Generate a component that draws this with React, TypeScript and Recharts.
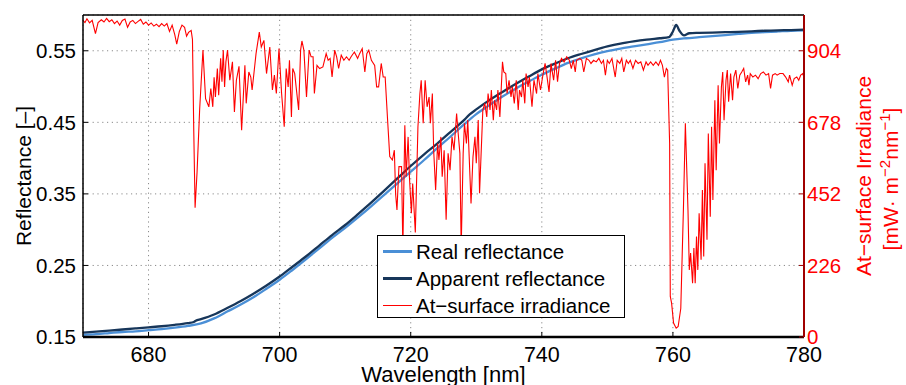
import React from 'react';
import { LineChart, Line, XAxis, YAxis, CartesianGrid, Legend } from 'recharts';

// wavelength ticks [nm]
const xTicks = [680, 700, 720, 740, 760, 780];
const reflTicks = [0.15, 0.25, 0.35, 0.45, 0.55];
const irrTicks = [0, 226, 452, 678, 904];

// [wavelength nm, reflectance]
const realReflectance: [number, number][] = [
  [670, 0.153], [672, 0.154], [674, 0.1555], [676, 0.157], [678, 0.158], [680, 0.1595],
  [682, 0.161], [684, 0.163], [686, 0.1655], [688, 0.169], [690, 0.176], [692, 0.1855],
  [694, 0.195], [696, 0.2055], [698, 0.2175], [700, 0.23], [702, 0.244], [704, 0.2585],
  [706, 0.2735], [708, 0.2885], [710, 0.3025], [712, 0.3175], [714, 0.333], [716, 0.349],
  [718, 0.365], [720, 0.381], [722, 0.397], [724, 0.4135], [726, 0.4295], [728, 0.446],
  [730, 0.4615], [732, 0.474], [734, 0.486], [736, 0.497], [738, 0.507], [740, 0.5165],
  [742, 0.525], [744, 0.533], [746, 0.5395], [748, 0.545], [750, 0.5495], [752, 0.553],
  [754, 0.556], [756, 0.559], [758, 0.562], [760, 0.5655], [762, 0.5675], [764, 0.569],
  [766, 0.5705], [768, 0.572], [770, 0.5735], [772, 0.575], [774, 0.576], [776, 0.577],
  [778, 0.578], [780, 0.5785],
];

const apparentReflectance: [number, number][] = [
  [670, 0.156], [672, 0.1575], [674, 0.159], [676, 0.1605], [678, 0.162], [680, 0.1635],
  [682, 0.165], [684, 0.167], [686, 0.1695], [686.9, 0.171], [687.2, 0.1728], [688, 0.175],
  [690, 0.1815], [692, 0.1905], [694, 0.2], [696, 0.2105], [698, 0.222], [700, 0.2345],
  [702, 0.2485], [704, 0.2625], [706, 0.2775], [708, 0.2925], [710, 0.3065], [712, 0.322],
  [714, 0.338], [716, 0.355], [718, 0.372], [720, 0.389], [722, 0.405], [724, 0.42],
  [726, 0.436], [728, 0.452], [729, 0.461], [730, 0.468], [732, 0.481], [734, 0.4925],
  [736, 0.5035], [738, 0.514], [740, 0.524], [742, 0.532], [744, 0.5395], [746, 0.5455],
  [748, 0.551], [750, 0.556], [752, 0.56], [754, 0.563], [756, 0.5655], [758, 0.5675],
  [759.4, 0.569], [760.0, 0.577], [760.5, 0.586], [761.0, 0.578], [761.7, 0.5715],
  [762.5, 0.5745], [764, 0.575], [766, 0.5755], [768, 0.576], [770, 0.5765], [772, 0.5772],
  [774, 0.578], [776, 0.5785], [778, 0.579], [780, 0.5795],
];

// [wavelength nm, at-surface irradiance mW m-2 nm-1]
const irradiance: [number, number][] = [
  [670.0, 1000], [670.3, 993], [670.6, 1005], [671.0, 992], [671.4, 1000], [671.9, 958],
  [672.3, 993], [672.8, 1002], [673.2, 995], [673.6, 1006], [674.0, 996], [674.4, 1002],
  [674.8, 990], [675.2, 998], [675.6, 985], [676.0, 1000], [676.4, 1004], [676.8, 978],
  [677.2, 995], [677.6, 1000], [678.0, 990], [678.4, 997], [678.8, 1003], [679.2, 988],
  [679.6, 995], [680.0, 985], [680.4, 992], [680.8, 982], [681.2, 988], [681.6, 980],
  [682.0, 990], [682.4, 982], [682.8, 990], [683.2, 965], [683.6, 985], [684.0, 955],
  [684.3, 925], [684.7, 965], [685.1, 985], [685.5, 978], [685.8, 950], [686.1, 962],
  [686.5, 968], [686.7, 940], [686.9, 650], [687.1, 408], [687.4, 520], [687.8, 720],
  [688.3, 906], [688.7, 753], [689.2, 727], [689.5, 785], [689.8, 727], [690.0, 820],
  [690.2, 758], [690.5, 848], [690.7, 764], [691.0, 880], [691.2, 806], [691.4, 906],
  [691.6, 790], [691.8, 869], [692.05, 906], [692.4, 811], [692.8, 869], [693.1, 711],
  [693.4, 811], [693.8, 855], [694.2, 653], [694.7, 858], [694.9, 738], [695.3, 837],
  [695.6, 821], [695.8, 780], [696.1, 837], [696.4, 895], [696.9, 963], [697.2, 916],
  [697.6, 937], [698.0, 832], [698.5, 916], [698.9, 780], [699.2, 827], [699.5, 769],
  [699.9, 911], [700.3, 769], [700.7, 664], [701.0, 848], [701.3, 790], [701.5, 874],
  [701.8, 695], [702.0, 848], [702.3, 832], [702.6, 774], [702.9, 717], [703.2, 906],
  [703.4, 935], [703.7, 906], [704.1, 758], [704.5, 906], [704.8, 885], [705.1, 885],
  [705.3, 769], [705.7, 858], [706.1, 848], [706.6, 853], [707.1, 895], [707.4, 874],
  [707.7, 880], [708.0, 821], [708.4, 906], [708.7, 885], [709.0, 848], [709.4, 890],
  [709.8, 874], [710.2, 885], [710.6, 874], [710.9, 885], [711.4, 900], [711.9, 880],
  [712.2, 895], [712.6, 911], [713.0, 837], [713.3, 895], [713.6, 906], [714.0, 874],
  [714.5, 858], [714.8, 790], [715.1, 790], [715.5, 864], [715.8, 821], [716.1, 821],
  [716.5, 675], [716.8, 570], [717.2, 559], [717.5, 590], [717.7, 450], [717.9, 401],
  [718.2, 538], [718.6, 538], [718.8, 280], [719.1, 669], [719.3, 506], [719.6, 632],
  [719.8, 506], [720.1, 391], [720.3, 485], [720.7, 330], [721.1, 664], [721.4, 769],
  [721.6, 811], [721.9, 675], [722.2, 811], [722.5, 727], [722.8, 758], [723.0, 675],
  [723.3, 769], [723.5, 590], [723.8, 464], [724.1, 611], [724.3, 559], [724.6, 632],
  [724.8, 506], [725.1, 590], [725.4, 370], [725.7, 580], [726.0, 527], [726.3, 632],
  [726.6, 590], [727.0, 706], [727.2, 653], [727.5, 580], [727.7, 280], [728.0, 580],
  [728.2, 675], [728.5, 611], [728.7, 685], [729.0, 527], [729.2, 422], [729.5, 569],
  [729.8, 632], [730.0, 549], [730.3, 685], [730.5, 454], [730.8, 611], [731.0, 717],
  [731.3, 738], [731.6, 695], [731.8, 769], [732.1, 717], [732.3, 780], [732.6, 685],
  [732.8, 748], [733.1, 717], [733.3, 780], [733.6, 695], [734.0, 869], [734.2, 837],
  [734.5, 832], [734.7, 769], [735.0, 811], [735.3, 758], [735.5, 790], [735.8, 738],
  [736.1, 811], [736.4, 717], [736.6, 780], [736.9, 758], [737.1, 811], [737.4, 738],
  [737.6, 832], [737.9, 790], [738.1, 821], [738.5, 727], [738.8, 811], [739.2, 769],
  [739.4, 832], [739.8, 780], [740.2, 832], [740.5, 864], [740.8, 821], [741.1, 774],
  [741.4, 864], [741.8, 811], [742.1, 874], [742.4, 806], [742.7, 864], [743.0, 880],
  [743.4, 869], [743.8, 885], [744.2, 874], [744.5, 848], [744.8, 874], [745.1, 837],
  [745.3, 874], [745.8, 880], [746.1, 874], [746.4, 837], [746.8, 880], [747.2, 874],
  [747.5, 864], [747.9, 874], [748.3, 869], [748.7, 880], [749.1, 864], [749.4, 874],
  [749.7, 827], [750.0, 874], [750.3, 864], [750.7, 880], [751.2, 821], [751.5, 874],
  [751.9, 864], [752.2, 880], [752.5, 837], [752.9, 874], [753.2, 864], [753.5, 874],
  [753.9, 848], [754.3, 874], [754.7, 864], [755.1, 869], [755.5, 843], [755.9, 869],
  [756.2, 858], [756.6, 869], [757.0, 858], [757.4, 869], [757.8, 858], [758.1, 874],
  [758.4, 858], [758.7, 821], [759.0, 848], [759.2, 843], [759.5, 611], [759.6, 128],
  [759.8, 107], [760.1, 44], [760.5, 28], [760.8, 33], [761.2, 90], [761.6, 401],
  [761.9, 675], [762.3, 401], [762.5, 212], [762.7, 265], [763.0, 170], [763.2, 281],
  [763.4, 170], [763.6, 317], [763.8, 212], [764.0, 391], [764.3, 244], [764.5, 464],
  [764.7, 254], [764.9, 549], [765.2, 307], [765.4, 643], [765.7, 380], [765.9, 664],
  [766.1, 433], [766.4, 748], [766.6, 527], [766.9, 795], [767.1, 611], [767.4, 790],
  [767.6, 837], [767.8, 685], [768.1, 811], [768.3, 843], [768.5, 743], [768.8, 832],
  [769.1, 748], [769.3, 821], [769.6, 843], [769.9, 785], [770.2, 827], [770.5, 837],
  [770.8, 848], [771.1, 806], [771.4, 827], [771.6, 795], [771.8, 832], [772.2, 821],
  [772.6, 827], [773.0, 816], [773.4, 832], [773.8, 837], [774.2, 827], [774.6, 832],
  [774.9, 785], [775.2, 827], [775.6, 832], [775.9, 827], [776.3, 832], [776.8, 832],
  [777.2, 821], [777.6, 806], [777.8, 827], [778.2, 795], [778.5, 816], [778.9, 821],
  [779.2, 811], [779.5, 827], [779.8, 832], [780.0, 820],
];

const FONT = '"Liberation Sans", Arial, sans-serif';
const REAL = '#4a8fd6';
const APPARENT = '#17365a';
const IRR = '#ff0000';

const legendItems = [
  { label: 'Real reflectance', color: REAL, width: 2.5 },
  { label: 'Apparent reflectance', color: APPARENT, width: 2.5 },
  { label: 'At\u2212surface irradiance', color: IRR, width: 1.2 },
];

const renderLegend = () => (
  <div
    style={{
      boxSizing: 'border-box',
      width: 248,
      height: 83,
      border: '1.5px solid #000',
      background: '#fff',
      paddingTop: 2,
      fontFamily: FONT,
      fontSize: 20.5,
      color: '#000',
    }}
  >
    {legendItems.map((it) => (
      <div key={it.label} style={{ display: 'flex', alignItems: 'center', height: 27 }}>
        <div style={{ width: 29, height: it.width, background: it.color, marginLeft: 5, marginRight: 4 }} />
        <span style={{ whiteSpace: 'nowrap' }}>{it.label}</span>
      </div>
    ))}
  </div>
);

const App: React.FC = () => {
  const realData = realReflectance.map(([wl, r]) => ({ wl, r }));
  const apparentData = apparentReflectance.map(([wl, r]) => ({ wl, r }));
  const irrData = irradiance.map(([wl, e]) => ({ wl, e }));

  return (
    <div style={{ position: 'absolute', left: 0, top: 0 }}>
      <LineChart width={906} height={385} margin={{ top: 0, right: 0, bottom: 0, left: 0 }}>
        <CartesianGrid
          yAxisId="left"
          stroke="#8a8a8a"
          strokeDasharray="1.2 3.6"
          ticks={reflTicks}
        />
        <XAxis
          dataKey="wl"
          type="number"
          domain={[670, 780]}
          ticks={xTicks}
          allowDataOverflow
          height={48}
          stroke="#000"
          axisLine={{ stroke: '#000', strokeWidth: 2.5 }}
          tickLine={{ stroke: '#000' }}
          tickSize={-5}
          tickMargin={15}
          tick={{ fill: '#000', fontSize: 21.5, fontFamily: FONT }}
          label={() => (
            <text x={443.5} y={382} textAnchor="middle" fontSize={22} fontFamily={FONT} fill="#000">
              Wavelength [nm]
            </text>
          )}
        />
        <XAxis
          xAxisId="top"
          orientation="top"
          type="number"
          domain={[670, 780]}
          ticks={xTicks}
          allowDataOverflow
          height={15}
          axisLine={{ stroke: '#000', strokeWidth: 1.5 }}
          tickLine={{ stroke: '#000' }}
          tickSize={-5}
          tickFormatter={() => ''}
        />
        <YAxis
          yAxisId="left"
          type="number"
          domain={[0.15, 0.6]}
          ticks={reflTicks}
          allowDataOverflow
          width={83}
          axisLine={{ stroke: '#000', strokeWidth: 1.5 }}
          tickLine={{ stroke: '#000' }}
          tickSize={-5}
          tickMargin={12}
          tickFormatter={(v: number) => v.toFixed(2)}
          tick={{ fill: '#000', fontSize: 20.5, fontFamily: FONT }}
          label={() => (
            <text
              x={31}
              y={176}
              transform="rotate(-90 31 176)"
              textAnchor="middle"
              fontSize={21}
              fontFamily={FONT}
              fill="#000"
            >
              Reflectance [–]
            </text>
          )}
        />
        <YAxis
          yAxisId="right"
          orientation="right"
          type="number"
          domain={[0, 1017]}
          ticks={irrTicks}
          allowDataOverflow
          width={102}
          axisLine={{ stroke: '#a00000', strokeWidth: 2 }}
          tickLine={{ stroke: '#a00000' }}
          tickSize={-5}
          tickMargin={8}
          tick={{ fill: IRR, fontSize: 20.5, fontFamily: FONT }}
          label={() => (
            <g fill={IRR} fontFamily={FONT} fontSize={21}>
              <text x={871} y={176} transform="rotate(-90 871 176)" textAnchor="middle">
                At{'\u2212'}surface Irradiance
              </text>
              <text x={898} y={179} transform="rotate(-90 898 179)" textAnchor="middle">
                [mW{'\u00b7'} m
                <tspan dy={-8} fontSize={15}>{'\u2212'}2</tspan>
                <tspan dy={8}>nm</tspan>
                <tspan dy={-8} fontSize={15}>{'\u2212'}1</tspan>
                <tspan dy={8}>]</tspan>
              </text>
            </g>
          )}
        />
        <Line
          yAxisId="left"
          data={realData}
          dataKey="r"
          type="monotone"
          stroke={REAL}
          strokeWidth={2.3}
          dot={false}
          isAnimationActive={false}
        />
        <Line
          yAxisId="left"
          data={apparentData}
          dataKey="r"
          type="monotone"
          stroke={APPARENT}
          strokeWidth={2.3}
          dot={false}
          isAnimationActive={false}
        />
        <Line
          yAxisId="right"
          data={irrData}
          dataKey="e"
          type="linear"
          stroke={IRR}
          strokeWidth={1.1}
          dot={false}
          isAnimationActive={false}
        />
        <Legend
          layout="horizontal"
          verticalAlign="middle"
          align="center"
          content={renderLegend}
          wrapperStyle={{ position: 'absolute', left: 377, top: 235, width: 248, height: 83 }}
        />
      </LineChart>
    </div>
  );
};

export default App;
